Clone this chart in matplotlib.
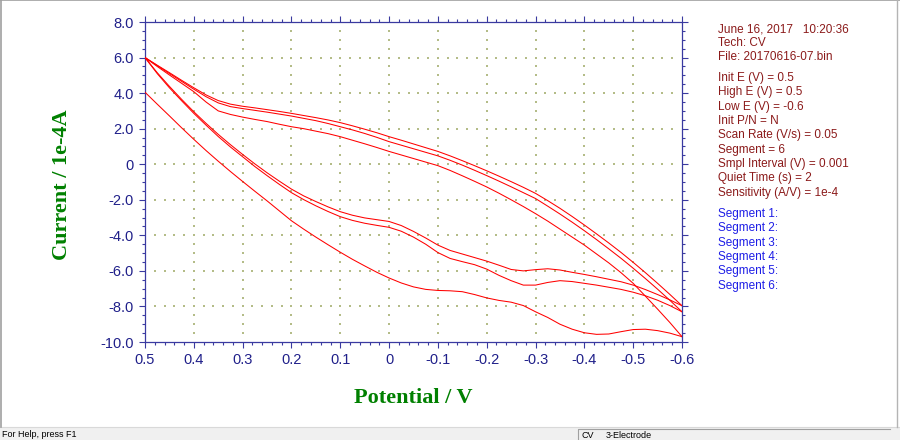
import numpy as np
import matplotlib
matplotlib.use("Agg")
import matplotlib.pyplot as plt
from matplotlib.patches import Rectangle
from matplotlib.lines import Line2D
from matplotlib.ticker import MultipleLocator

# potential grid (V) shared by every segment
potential = [0.5, 0.475, 0.45, 0.425, 0.4, 0.375, 0.35, 0.325, 0.3, 0.275,
             0.25, 0.225, 0.2, 0.175, 0.15, 0.125, 0.1, 0.075, 0.05, 0.025,
             0.0, -0.025, -0.05, -0.075, -0.1, -0.125, -0.15, -0.175, -0.2, -0.225,
             -0.25, -0.275, -0.3, -0.325, -0.35, -0.375, -0.4, -0.425, -0.45, -0.475,
             -0.5, -0.525, -0.55, -0.575, -0.6]

# currents (1e-4 A), one list per segment
seg1 = [4.05, 3.38, 2.72, 2.05, 1.4, 0.77, 0.17, -0.41, -0.97, -1.52,
        -2.06, -2.62, -3.18, -3.65, -4.1, -4.53, -4.95, -5.35, -5.72, -6.08,
        -6.4, -6.68, -6.9, -7.04, -7.1, -7.12, -7.17, -7.33, -7.52, -7.66,
        -7.76, -7.95, -8.3, -8.62, -9.0, -9.28, -9.48, -9.57, -9.55, -9.42,
        -9.3, -9.28, -9.36, -9.5, -9.7]
seg2 = [6.0, 5.5, 5.02, 4.55, 4.08, 3.5, 3.0, 2.8, 2.65, 2.52,
        2.4, 2.25, 2.11, 2.0, 1.86, 1.72, 1.55, 1.35, 1.15, 0.94,
        0.72, 0.52, 0.32, 0.12, -0.08, -0.35, -0.65, -0.96, -1.28, -1.63,
        -2.0, -2.38, -2.78, -3.2, -3.65, -4.1, -4.55, -5.05, -5.55, -6.1,
        -6.7, -7.42, -8.15, -8.9, -9.7]
seg3 = [6.0, 5.15, 4.38, 3.65, 2.95, 2.3, 1.68, 1.1, 0.55, 0.02,
        -0.48, -0.95, -1.4, -1.78, -2.1, -2.4, -2.67, -2.87, -3.02, -3.12,
        -3.22, -3.45, -3.78, -4.15, -4.55, -4.85, -5.05, -5.25, -5.45, -5.68,
        -5.92, -6.0, -5.93, -5.88, -5.95, -6.08, -6.2, -6.33, -6.47, -6.61,
        -6.8, -7.05, -7.33, -7.63, -7.96]
seg4 = [6.0, 5.57, 5.15, 4.72, 4.3, 3.9, 3.58, 3.38, 3.26, 3.17,
        3.07, 2.97, 2.86, 2.74, 2.62, 2.49, 2.34, 2.16, 1.97, 1.77,
        1.55, 1.35, 1.14, 0.93, 0.72, 0.47, 0.2, -0.08, -0.37, -0.67,
        -0.98, -1.3, -1.64, -2.05, -2.48, -2.94, -3.42, -3.92, -4.43, -4.96,
        -5.52, -6.1, -6.7, -7.32, -7.96]
seg5 = [6.0, 5.1, 4.3, 3.57, 2.86, 2.2, 1.56, 0.97, 0.42, -0.13,
        -0.64, -1.13, -1.6, -1.99, -2.34, -2.66, -2.95, -3.16, -3.32, -3.44,
        -3.55, -3.77, -4.1, -4.5, -4.97, -5.3, -5.48, -5.65, -5.9, -6.25,
        -6.55, -6.8, -6.8, -6.65, -6.55, -6.6, -6.7, -6.8, -6.92, -7.04,
        -7.2, -7.4, -7.65, -7.95, -8.3]
seg6 = [6.0, 5.55, 5.1, 4.66, 4.22, 3.8, 3.45, 3.24, 3.13, 3.03,
        2.93, 2.82, 2.71, 2.58, 2.45, 2.29, 2.11, 1.93, 1.73, 1.51,
        1.27, 1.07, 0.87, 0.67, 0.47, 0.22, -0.05, -0.34, -0.64, -0.95,
        -1.27, -1.6, -1.93, -2.36, -2.8, -3.26, -3.74, -4.24, -4.76, -5.29,
        -5.85, -6.43, -7.03, -7.65, -8.3]
segments = [seg1, seg2, seg3, seg4, seg5, seg6]

xticks = [0.5, 0.4, 0.3, 0.2, 0.1, 0.0, -0.1, -0.2, -0.3, -0.4, -0.5, -0.6]
xtick_labels = ["0.5", "0.4", "0.3", "0.2", "0.1", "0", "-0.1", "-0.2", "-0.3", "-0.4", "-0.5", "-0.6"]
yticks = [8, 6, 4, 2, 0, -2, -4, -6, -8, -10]
ytick_labels = ["8.0", "6.0", "4.0", "2.0", "0", "-2.0", "-4.0", "-6.0", "-8.0", "-10.0"]

info_lines = ["June 16, 2017   10:20:36", "Tech: CV", "File: 20170616-07.bin"]
param_lines = ["Init E (V) = 0.5", "High E (V) = 0.5", "Low E (V) = -0.6", "Init P/N = N",
               "Scan Rate (V/s) = 0.05", "Segment = 6", "Smpl Interval (V) = 0.001",
               "Quiet Time (s) = 2", "Sensitivity (A/V) = 1e-4"]
seg_lines = ["Segment 1:", "Segment 2:", "Segment 3:", "Segment 4:", "Segment 5:", "Segment 6:"]

plt.rcParams['font.family'] = ['Liberation Sans', 'DejaVu Sans']

W, H = 900, 440
def fx(px):
    return px / W
def fy(py):
    return 1 - py / H

fig = plt.figure(figsize=(9, 4.4), dpi=100)
fig.patch.set_facecolor('white')

# window chrome
fig.patches.append(Rectangle((0, 0), 1, fy(427), transform=fig.transFigure, facecolor='#f0f0f0', edgecolor='none'))
fig.lines.append(Line2D([0, 1], [fy(427), fy(427)], transform=fig.transFigure, color='#d9d9d9', lw=0.8))
fig.lines.append(Line2D([fx(0.5), fx(0.5)], [fy(427), 1], transform=fig.transFigure, color='#a0a0a0', lw=1.2))
fig.lines.append(Line2D([0, 1], [fy(0.5), fy(0.5)], transform=fig.transFigure, color='#a0a0a0', lw=1.2))
fig.lines.append(Line2D([fx(896.5), fx(896.5)], [fy(427), 1], transform=fig.transFigure, color='#b4b4b4', lw=1.0))
fig.lines.append(Line2D([fx(578), fx(578), fx(890)], [fy(439), fy(429), fy(429)], transform=fig.transFigure, color='#a0a0a0', lw=0.8))
fig.text(fx(2), fy(434), "For Help, press F1", fontsize=6.5, color='black', va='center', ha='left')
fig.text(fx(582), fy(435), "CV", fontsize=6.5, color='black', va='center', ha='left')
fig.text(fx(606), fy(435), "3-Electrode", fontsize=6.5, color='black', va='center', ha='left')

ax = fig.add_axes([fx(145), fy(342), (682 - 145) / W, 320 / H])
ax.set_xlim(0.5, -0.6)
ax.set_ylim(-10, 8)

axis_col = '#3a3aa0'
for s in ax.spines.values():
    s.set_color(axis_col)
    s.set_linewidth(0.9)

ax.set_xticks(xticks)
ax.set_xticklabels(xtick_labels)
ax.set_yticks(yticks)
ax.set_yticklabels(ytick_labels)
ax.xaxis.set_minor_locator(MultipleLocator(0.02))
ax.yaxis.set_minor_locator(MultipleLocator(0.5))
ax.tick_params(which='both', direction='out', color=axis_col, top=True, right=True, width=0.8)
ax.tick_params(which='major', length=4, labelsize=10.5, labelcolor='#20208a', pad=4)
ax.tick_params(which='minor', length=2.3)

# dotted grid: faint dots at minor positions along major lines
minor_x = np.arange(0.5, -0.6 - 1e-9, -0.02)
minor_y = np.arange(-10, 8 + 1e-9, 0.5)
gx, gy = [], []
for xv in xticks[1:-1]:
    for yv in minor_y[1:-1]:
        gx.append(xv)
        gy.append(yv)
for yv in yticks[1:-1]:
    for xv in minor_x[1:-1]:
        gx.append(xv)
        gy.append(yv)
ax.scatter(gx, gy, s=0.8, marker='s', color='#b4bc88', linewidths=0, zorder=1)

for seg in segments:
    ax.plot(potential, seg, color='#ff0000', lw=0.75, zorder=3)

lab_font = dict(family=['Liberation Serif', 'DejaVu Serif'], fontweight='bold', fontsize=16, color='#008000')
fig.text(fx(413), fy(398), "Potential / V", ha='center', va='center', **lab_font)
fig.text(fx(62), fy(185), "Current / 1e-4A", ha='center', va='center', rotation=90, **lab_font)

red = '#8b1a1a'
blue = '#1e1ee6'
for i, t in enumerate(info_lines):
    fig.text(fx(718), fy(29 + i * 14.2), t, fontsize=8.5, color=red, va='center', ha='left')
for i, t in enumerate(param_lines):
    fig.text(fx(718), fy(78 + i * 14.35), t, fontsize=8.5, color=red, va='center', ha='left')
for i, t in enumerate(seg_lines):
    fig.text(fx(718), fy(214 + i * 14.3), t, fontsize=8.5, color=blue, va='center', ha='left')

fig.savefig("out.png", dpi=100)
